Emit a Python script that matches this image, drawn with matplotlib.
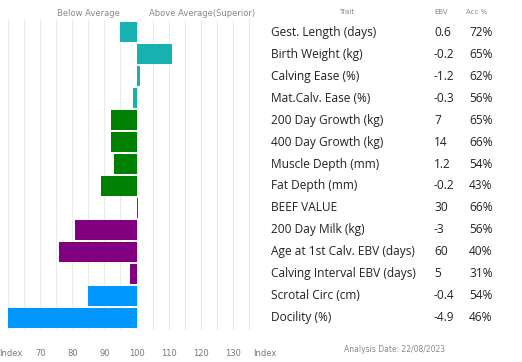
import matplotlib
matplotlib.use("Agg")
import matplotlib.pyplot as plt
import matplotlib.transforms as mtransforms
import numpy as np

traits = [
    "Gest. Length (days)", "Birth Weight (kg)", "Calving Ease (%)",
    "Mat.Calv. Ease (%)", "200 Day Growth (kg)", "400 Day Growth (kg)",
    "Muscle Depth (mm)", "Fat Depth (mm)", "BEEF VALUE", "200 Day Milk (kg)",
    "Age at 1st Calv. EBV (days)", "Calving Interval EBV (days)",
    "Scrotal Circ (cm)", "Docility (%)",
]
ebv = ["0.6", "-0.2", "-1.2", "-0.3", "7", "14", "1.2", "-0.2", "30", "-3",
       "60", "5", "-0.4", "-4.9"]
acc = ["72%", "65%", "62%", "56%", "65%", "66%", "54%", "43%", "66%", "56%",
       "40%", "31%", "54%", "46%"]
index_vals = [95, 111.2, 101, 99, 92, 92, 93, 89, 100.4, 81, 76, 98, 85, 60]
groups = ["calving"] * 4 + ["growth"] * 5 + ["maternal"] * 3 + ["other"] * 2

xtick_vals = [60, 70, 80, 90, 100, 110, 120, 130, 140]
xtick_labels = ["Index", "70", "80", "90", "100", "110", "120", "130", "Index"]

group_colors = {"calving": "#17B1B1", "growth": "#008000",
                "maternal": "#800080", "other": "#0096FF"}

fig = plt.figure(figsize=(5.22, 3.62), dpi=100)
W, H = 522, 362
ax = fig.add_axes([8 / W, (H - 330) / H, (265 - 8) / W, (330 - 20) / H])

rows = np.arange(len(traits))
base = 100
widths = [v - base for v in index_vals]
ax.barh(rows, widths, left=base, height=0.9,
        color=[group_colors[g] for g in groups], zorder=3)

ax.set_xlim(60, 140)
ax.set_ylim(len(traits) - 0.45, -0.55)
ax.set_xticks(xtick_vals)
ax.set_xticklabels(xtick_labels, fontsize=6, color="#777777")
ax.set_xticks(np.arange(60, 141, 5), minor=True)
ax.set_yticks([])
ax.tick_params(axis="x", which="both", length=0, pad=14)
ax.grid(axis="x", which="both", color="#ebebeb", linewidth=0.8, zorder=0)
for s in ax.spines.values():
    s.set_visible(False)

# first "Index" label sits right at the figure edge, nudge it in a bit
first = ax.get_xticklabels()[0]
first.set_transform(first.get_transform() +
                    mtransforms.ScaledTranslation(3 / 100, 0, fig.dpi_scale_trans))

# headers over the bars
fig.text(88 / W, 1 - 13 / H, "Below Average", fontsize=6, color="#888888",
         ha="center", va="center")
fig.text(202 / W, 1 - 13 / H, "Above Average(Superior)", fontsize=6,
         color="#888888", ha="center", va="center")

# table on the right
trans = mtransforms.blended_transform_factory(fig.transFigure, ax.transData)
fig.text(347 / W, 1 - 12 / H, "Trait", fontsize=5, color="#888888",
         ha="center", va="center")
fig.text(441 / W, 1 - 12 / H, "EBV", fontsize=5, color="#888888",
         ha="center", va="center")
fig.text(477 / W, 1 - 12 / H, "Acc %", fontsize=5, color="#888888",
         ha="center", va="center")
for i, (t, e, a) in enumerate(zip(traits, ebv, acc)):
    ax.text(271 / W, i, t, transform=trans, fontsize=8.6, color="#222222",
            ha="left", va="center", family="Open Sans")
    ax.text(434 / W, i, e, transform=trans, fontsize=8.6, color="#222222",
            ha="left", va="center", family="Open Sans")
    ax.text(469 / W, i, a, transform=trans, fontsize=8.6, color="#222222",
            ha="left", va="center", family="Open Sans")

fig.text(395 / W, 1 - 349 / H, "Analysis Date: 22/08/2023", fontsize=5.5,
         color="#888888", ha="center", va="center")

fig.savefig("out.png", dpi=100)
